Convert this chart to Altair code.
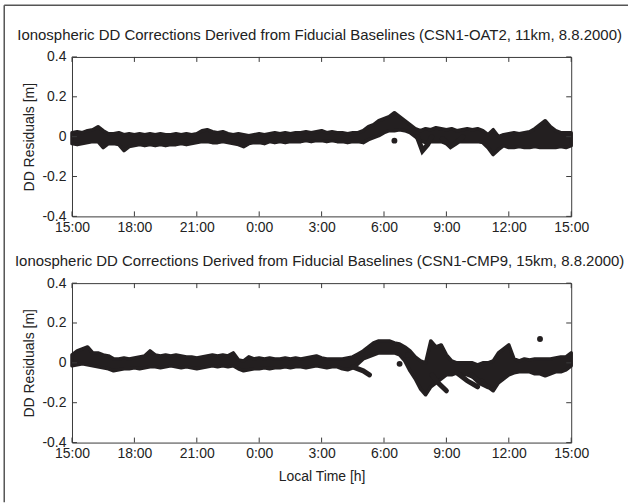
import altair as alt
import pandas as pd

INK = "#231f20"
AX = "#3a3a3a"
TXT = "#222222"
FONT = "Liberation Sans, Arial, Helvetica, sans-serif"

title_top = "Ionospheric DD Corrections Derived from Fiducial Baselines (CSN1-OAT2, 11km, 8.8.2000)"
title_bot = "Ionospheric DD Corrections Derived from Fiducial Baselines (CSN1-CMP9, 15km, 8.8.2000)"
y_title = "DD Residuals [m]"
x_title = "Local Time [h]"

# hours since 15:00, quarter-hour grid
hours = [i * 0.25 for i in range(97)]
x_ticks = [0, 3, 6, 9, 12, 15, 18, 21, 24]
y_ticks = [-0.4, -0.2, 0, 0.2, 0.4]

# --- CSN1-OAT2 band envelope ---
top_upper = [
    0.02, 0.025, 0.02, 0.03,
    0.035, 0.05, 0.03, 0.015,
    0.015, 0.02, 0.01, 0.015,
    0.01, 0.015, 0.01, 0.015,
    0.01, 0.015, 0.01, 0.01,
    0.015, 0.01, 0.015, 0.01,
    0.015, 0.03, 0.035, 0.025,
    0.02, 0.025, 0.015, 0.01,
    0.015, 0.01, 0.005, 0.01,
    0.015, 0.01, 0.015, 0.02,
    0.015, 0.02, 0.015, 0.02,
    0.02, 0.025, 0.02, 0.025,
    0.03, 0.02, 0.025, 0.02,
    0.02, 0.015, 0.02, 0.02,
    0.03, 0.05, 0.06, 0.08,
    0.09, 0.10, 0.12, 0.10,
    0.08, 0.06, 0.04, 0.03,
    0.04, 0.035, 0.045, 0.04,
    0.035, 0.04, 0.03, 0.035,
    0.04, 0.035, 0.04, 0.03,
    0.01, 0.035, 0.0, 0.01,
    0.015, 0.02, 0.015, 0.02,
    0.025, 0.04, 0.06, 0.08,
    0.05, 0.03, 0.02, 0.02,
    0.02,
]
top_lower = [
    -0.035, -0.04, -0.035, -0.03,
    -0.025, -0.025, -0.055, -0.035,
    -0.035, -0.04, -0.07, -0.05,
    -0.045, -0.04, -0.045, -0.04,
    -0.045, -0.04, -0.045, -0.04,
    -0.04, -0.035, -0.04, -0.035,
    -0.03, -0.025, -0.025, -0.03,
    -0.03, -0.025, -0.03, -0.035,
    -0.04, -0.05, -0.035, -0.03,
    -0.03, -0.035, -0.025, -0.03,
    -0.025, -0.03, -0.025, -0.025,
    -0.025, -0.02, -0.025, -0.02,
    -0.02, -0.025, -0.02, -0.025,
    -0.025, -0.03, -0.025, -0.025,
    -0.03, -0.015, -0.005, 0.005,
    0.02, 0.03, 0.03, 0.035,
    0.03, 0.02, 0.0, -0.02,
    -0.03, -0.025, -0.025, -0.025,
    -0.035, -0.045, -0.025, -0.025,
    -0.025, -0.025, -0.025, -0.03,
    -0.055, -0.09, -0.065, -0.045,
    -0.055, -0.055, -0.05, -0.055,
    -0.055, -0.05, -0.055, -0.055,
    -0.055, -0.055, -0.05, -0.055,
    -0.045,
]
top_branch_id = [1, 1, 1, 1, 2, 2, 2, 2]
top_branch_h = [16.6, 16.85, 17.1, 17.3, 17.8, 18.2, 18.5, 18.8]
top_branch_v = [0.0, -0.07, -0.04, 0.0, -0.01, -0.05, -0.03, 0.0]
top_dot_h = [15.5]
top_dot_v = [-0.02]

# --- CSN1-CMP9 band envelope ---
bot_upper = [
    0.04, 0.06, 0.07, 0.08,
    0.05, 0.05, 0.04, 0.035,
    0.02, 0.02, 0.025, 0.02,
    0.025, 0.03, 0.035, 0.06,
    0.04, 0.035, 0.04, 0.035,
    0.04, 0.035, 0.03, 0.03,
    0.025, 0.03, 0.035, 0.04,
    0.035, 0.04, 0.035, 0.05,
    0.015, 0.01, 0.03, 0.02,
    0.025, 0.02, 0.025, 0.02,
    0.02, 0.025, 0.02, 0.025,
    0.02, 0.025, 0.03, 0.035,
    0.025, 0.02, 0.02, 0.02,
    0.02, 0.025, 0.03, 0.045,
    0.06, 0.08, 0.10, 0.11,
    0.11, 0.11, 0.10, 0.095,
    0.08, 0.06, 0.03, 0.01,
    0.0, 0.11, 0.08, 0.09,
    0.04, 0.01, 0.0, 0.0,
    0.0, 0.0, -0.01, 0.0,
    0.0, 0.01, 0.05, 0.07,
    0.09, 0.02, 0.01, 0.02,
    0.015, 0.02, 0.02, 0.02,
    0.02, 0.025, 0.03, 0.03,
    0.05,
]
bot_lower = [
    -0.015, -0.01, -0.005, -0.01,
    -0.015, -0.02, -0.025, -0.03,
    -0.04, -0.035, -0.03, -0.03,
    -0.025, -0.03, -0.025, -0.02,
    -0.02, -0.025, -0.02, -0.015,
    -0.02, -0.025, -0.02, -0.025,
    -0.03, -0.025, -0.02, -0.015,
    -0.02, -0.015, -0.02, -0.015,
    -0.03, -0.04, -0.035, -0.03,
    -0.03, -0.025, -0.03, -0.025,
    -0.025, -0.02, -0.025, -0.02,
    -0.02, -0.025, -0.02, -0.015,
    -0.02, -0.025, -0.02, -0.02,
    -0.03, -0.035, -0.025, -0.005,
    0.02, 0.03, 0.04, 0.05,
    0.05, 0.05, 0.05, 0.04,
    0.01, -0.04, -0.08, -0.13,
    -0.16, -0.12, -0.10, -0.08,
    -0.06, -0.06, -0.05, -0.06,
    -0.06, -0.07, -0.08, -0.09,
    -0.12, -0.14, -0.10, -0.08,
    -0.06, -0.05, -0.045, -0.045,
    -0.045, -0.055, -0.055, -0.065,
    -0.055, -0.045, -0.045, -0.035,
    -0.015,
]
bot_branch_id = [1, 1, 1, 2, 2, 2, 3, 3, 3, 4, 4, 4]
bot_branch_h = [13.5, 14.0, 14.3, 17.3, 17.6, 18.0, 18.5, 19.0, 19.5, 19.2, 19.6, 20.0]
bot_branch_v = [-0.02, -0.04, -0.06, -0.06, -0.10, -0.14, -0.05, -0.09, -0.12, -0.06, -0.10, -0.12]
bot_dot_h = [15.75, 16.15, 22.5]
bot_dot_v = [-0.005, 0.04, 0.12]

W = 501
H = 160
xscale = alt.Scale(domain=[0, 24], nice=False, zero=False)
yscale = alt.Scale(domain=[-0.4, 0.4], nice=False, zero=False)


def panel(title, upper, lower, bh, bv, bid, dh, dv, show_xtitle, frame):
    band_df = pd.DataFrame({"h": hours, "up": upper, "lo": lower})
    br_df = pd.DataFrame({"h": bh, "v": bv, "id": bid})
    dot_df = pd.DataFrame({"h": dh, "v": dv})
    xt_df = pd.DataFrame({"h": x_ticks})
    yt_df = pd.DataFrame({"v": y_ticks})
    one = pd.DataFrame({"a": [0]})

    xaxis = alt.Axis(
        values=x_ticks,
        labelExpr="((datum.value + 15) % 24) + ':00'",
        title=x_title if show_xtitle else None,
        grid=False, domain=False, ticks=False, labelFlush=False, labelOverlap=False,
        labelPadding=4, titlePadding=9,
    )
    yaxis = alt.Axis(
        values=y_ticks, labelExpr="'' + datum.value", title=y_title,
        grid=False, domain=False, ticks=False, labelFlush=False, labelOverlap=False,
        labelPadding=6, titlePadding=6,
    )
    xs = dict(scale=xscale, axis=xaxis, title=x_title if show_xtitle else None)
    ys = dict(scale=yscale, axis=yaxis, title=y_title)
    band = alt.Chart(band_df).mark_area(color=INK, stroke=INK, strokeWidth=3.5, strokeJoin="round").encode(
        x=alt.X("h:Q", **xs),
        y=alt.Y("up:Q", **ys),
        y2="lo:Q",
    )
    branches = alt.Chart(br_df).mark_line(color=INK, strokeWidth=5, strokeCap="round").encode(
        x=alt.X("h:Q", **xs), y=alt.Y("v:Q", **ys), detail="id:N"
    )
    dots = alt.Chart(dot_df).mark_circle(color=INK, opacity=1, size=35).encode(
        x=alt.X("h:Q", **xs), y=alt.Y("v:Q", **ys)
    )
    tb = alt.Chart(xt_df).mark_rule(color=AX).encode(x=alt.X("h:Q", **xs), y=alt.value(H), y2=alt.value(H - 5))
    tt = alt.Chart(xt_df).mark_rule(color=AX).encode(x=alt.X("h:Q", **xs), y=alt.value(0), y2=alt.value(5))
    tl = alt.Chart(yt_df).mark_rule(color=AX).encode(y=alt.Y("v:Q", **ys), x=alt.value(0), x2=alt.value(5))
    tr = alt.Chart(yt_df).mark_rule(color=AX).encode(y=alt.Y("v:Q", **ys), x=alt.value(W), x2=alt.value(W - 5))
    ttl = alt.Chart(one).mark_text(font=FONT, fontSize=15, color=TXT, align="center", baseline="middle").encode(
        x=alt.value(W / 2 - 2), y=alt.value(-22), text=alt.value(title))
    layers = [band, branches, dots, tb, tt, tl, tr, ttl]
    if frame:
        fl = alt.Chart(one).mark_rule(color="#555555", strokeWidth=1.5).encode(
            x=alt.value(-68), y=alt.value(-52), y2=alt.value(447))
        ft = alt.Chart(one).mark_rule(color="#555555", strokeWidth=1.5).encode(
            x=alt.value(-68), x2=alt.value(558), y=alt.value(-52))
        layers += [fl, ft]
    return alt.layer(*layers).properties(width=W, height=H)


top = panel(title_top, top_upper, top_lower, top_branch_h, top_branch_v, top_branch_id,
            top_dot_h, top_dot_v, False, True)
bot = panel(title_bot, bot_upper, bot_lower, bot_branch_h, bot_branch_v, bot_branch_id,
            bot_dot_h, bot_dot_v, True, False)

chart = alt.vconcat(top, bot, spacing=67, bounds="flush").properties(
    padding={"left": 2.25, "top": 2.25, "right": 0, "bottom": 0},
    background="white",
).configure_view(
    stroke=AX, strokeWidth=1,
).configure_axis(
    labelFont=FONT, titleFont=FONT, labelFontSize=14, titleFontSize=14,
    labelColor=TXT, titleColor=TXT, titleFontWeight="normal",
)

chart.save("out.html", embed_options={"renderer": "svg", "actions": False})
